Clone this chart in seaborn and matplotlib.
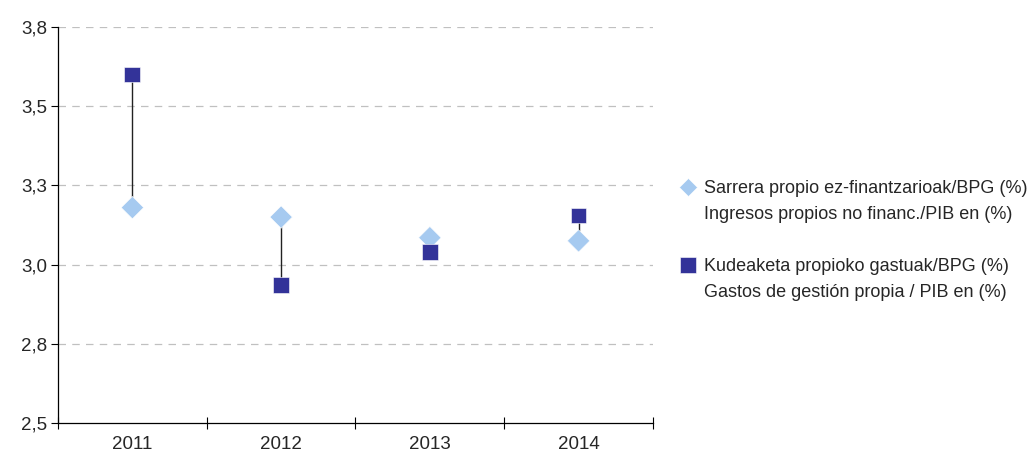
import numpy as np
import pandas as pd
import seaborn as sns
import matplotlib.pyplot as plt
from matplotlib.lines import Line2D
from matplotlib.ticker import FixedLocator, NullFormatter

sns.set_style("white")
plt.rcParams["font.family"] = ["Liberation Sans", "DejaVu Sans"]

years = [2011, 2012, 2013, 2014]
ingresos = [3.18, 3.15, 3.085, 3.075]   # Sarrera propio ez-finantzarioak/BPG (%)
gastos = [3.60, 2.935, 3.04, 3.155]     # Kudeaketa propioko gastuak/BPG (%)

ytick_vals = [2.5, 2.75, 3.0, 3.25, 3.5, 3.75]
ytick_labels = ["2,5", "2,8", "3,0", "3,3", "3,5", "3,8"]

labels = [
    "Sarrera propio ez-finantzarioak/BPG (%)",
    "Ingresos propios no financ./PIB en (%)",
    "Kudeaketa propioko gastuak/BPG (%)",
    "Gastos de gestión propia / PIB en (%)",
]

c_light = "#A6CAF0"
c_dark = "#333399"

df = pd.DataFrame({
    "year": years * 2,
    "value": ingresos + gastos,
    "serie": ["ingresos"] * len(years) + ["gastos"] * len(years),
})

fig = plt.figure(figsize=(10.31, 4.61), dpi=100)
ax = fig.add_axes([0.0563, 0.0824, 0.577, 0.859])

# high-low lines between the two series
sns.lineplot(data=df, x="year", y="value", units="year", estimator=None,
             color="#222222", linewidth=1.0, ax=ax, legend=False, zorder=2)

sns.scatterplot(data=df, x="year", y="value", hue="serie", style="serie",
                markers={"ingresos": "D", "gastos": "s"},
                palette={"ingresos": c_light, "gastos": c_dark},
                s=130, edgecolor="white", linewidth=0.4,
                ax=ax, legend=False, zorder=3)

ax.set_xlim(years[0] - 0.5, years[-1] + 0.5)
ax.set_ylim(ytick_vals[0], ytick_vals[-1])
ax.set_yticks(ytick_vals)
ax.set_yticklabels(ytick_labels)
ax.set_xticks(years)
ax.set_xticklabels([str(y) for y in years])
ax.xaxis.set_minor_locator(FixedLocator([y - 0.5 for y in years] + [years[-1] + 0.5]))
ax.xaxis.set_minor_formatter(NullFormatter())
ax.tick_params(axis="x", which="both", bottom=True)
ax.tick_params(axis="y", which="major", left=True)
ax.tick_params(axis="x", which="major", length=0, pad=9, labelsize=13.5)
ax.tick_params(axis="x", which="minor", length=9, direction="inout", width=0.8, color="black")
ax.tick_params(axis="y", length=5, direction="out", width=0.8, color="black", pad=3, labelsize=13.5)
ax.set_xlabel("")
ax.set_ylabel("")

for v in ytick_vals[1:]:
    ax.axhline(v, color="#c0c0c0", linestyle=(0, (6, 5)), linewidth=0.9, zorder=0)

for side in ["top", "right"]:
    ax.spines[side].set_visible(False)
for side in ["left", "bottom"]:
    ax.spines[side].set_color("black")
    ax.spines[side].set_linewidth(0.9)

blank = Line2D([], [], linestyle="none")
handles = [
    Line2D([], [], marker="D", linestyle="none", markersize=9.5, color=c_light, markeredgecolor="white", markeredgewidth=0.4),
    blank,
    blank,
    Line2D([], [], marker="s", linestyle="none", markersize=11, color=c_dark, markeredgecolor="white", markeredgewidth=0.4),
    blank,
]
leg_labels = [labels[0], labels[1], "", labels[2], labels[3]]
fig.legend(handles, leg_labels, loc="upper left", bbox_to_anchor=(0.645, 0.645),
           frameon=False, handlelength=0.8, handletextpad=0.45, labelspacing=0.5,
           prop={"family": ["Liberation Sans Narrow", "Liberation Sans"], "size": 13})

fig.savefig("out.png", dpi=100)
